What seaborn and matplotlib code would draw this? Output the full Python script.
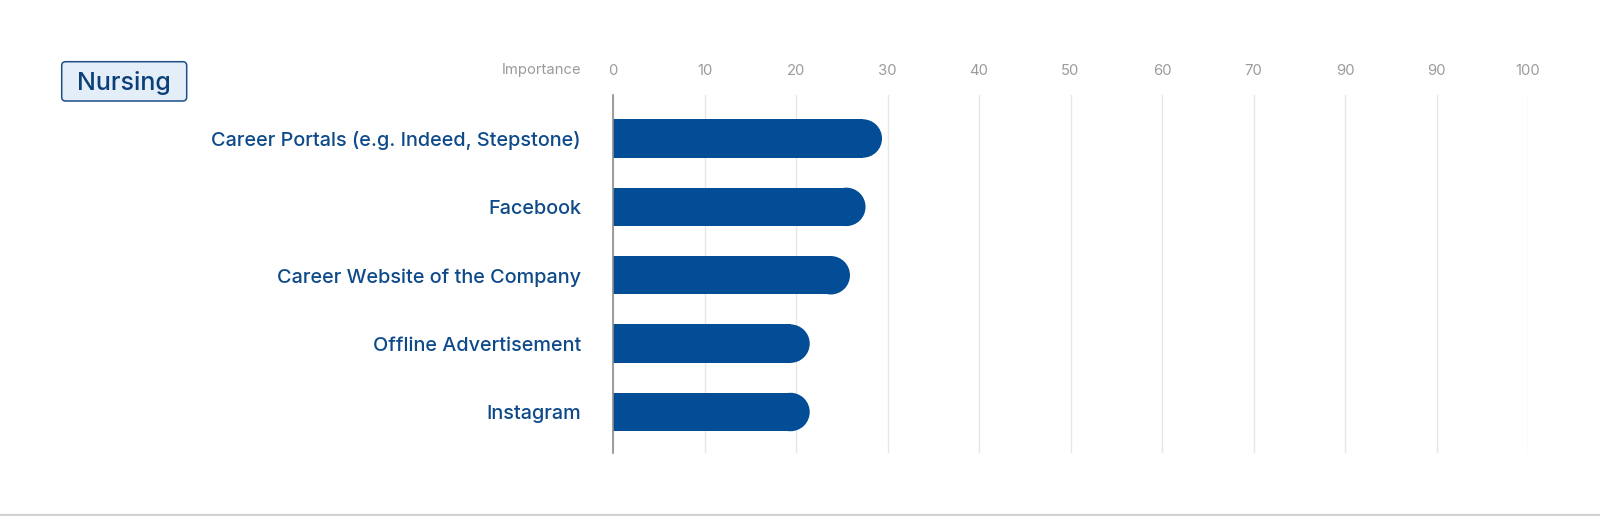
import matplotlib
matplotlib.use("Agg")
import matplotlib.pyplot as plt
import seaborn as sns
import pandas as pd
from matplotlib.patches import Ellipse, FancyBboxPatch
from matplotlib.lines import Line2D
from matplotlib.transforms import IdentityTransform

# ---- data ----
channels = [
    "Career Portals (e.g. Indeed, Stepstone)",
    "Facebook",
    "Career Website of the Company",
    "Offline Advertisement",
    "Instagram",
]
importance = [29.4, 27.6, 25.9, 21.5, 21.5]
tick_values = [0, 10, 20, 30, 40, 50, 60, 70, 80, 90, 100]
tick_labels = ["0", "10", "20", "30", "40", "50", "60", "70", "90", "90", "100"]
group_label = "Nursing"
axis_title = "Importance"

BAR = "#034c96"
LABEL = "#0e4a8a"
GRAY_TXT = "#9b9b9b"
GRID = "#e6e6e6"

sns.set_theme(style="white")
plt.rcParams["font.family"] = ["Inter", "DejaVu Sans"]

W, H = 1600, 516
fig = plt.figure(figsize=(W / 100, H / 100), dpi=100)
fig.patch.set_facecolor("white")

ax_left, ax_right, ax_top, ax_bot = 613, 1528, 95, 452.7
ax = fig.add_axes([ax_left / W, 1 - ax_bot / H, (ax_right - ax_left) / W, (ax_bot - ax_top) / H])

df = pd.DataFrame({"channel": channels, "importance": importance})
bar_h = 0.562
sns.barplot(data=df, x="importance", y="channel", orient="h", color=BAR,
            width=bar_h, saturation=1, ax=ax, zorder=3)

ax.set_xlim(0, 100)
ax.set_ylim(4.595, -0.636)

# rounded right ends
px_per_x = (ax_right - ax_left) / 100.0
r_px = (bar_h * (ax_bot - ax_top) / (4.595 + 0.636)) / 2.0
rx = r_px / px_per_x
for p in list(ax.patches):
    v = p.get_width()
    y0 = p.get_y()
    h = p.get_height()
    p.set_width(v - rx)
    p.set_edgecolor("none")
    e = Ellipse((v - rx, y0 + h / 2), 2 * rx, h, facecolor=BAR, edgecolor="none", zorder=3)
    ax.add_patch(e)

# axes styling
for s in ["top", "right", "bottom"]:
    ax.spines[s].set_visible(False)
ax.spines["left"].set_color("#8c8c8c")
ax.spines["left"].set_linewidth(1.2)
ax.spines["left"].set_zorder(4)

ax.xaxis.tick_top()
ax.set_xticks(tick_values)
ax.set_xticklabels(tick_labels)
ax.tick_params(axis="x", length=0, pad=12.5, labelsize=10.7, labelcolor=GRAY_TXT)
ax.tick_params(axis="y", length=0, pad=23, labelsize=14.3, labelcolor=LABEL)
for t in ax.get_yticklabels():
    t.set_fontweight("medium")
ax.grid(axis="x", color=GRID, linewidth=1, zorder=0)
ax.grid(axis="y", visible=False)
ax.set_axisbelow(True)
ax.set_xlabel("")
ax.set_ylabel("")

# "Importance" label
fig.text(581.7 / W, 1 - 70 / H, axis_title, ha="right", va="center",
         fontsize=10.7, color=GRAY_TXT)

# Nursing box
bx0, by0, bx1, by1 = 61.7, 61.7, 186.7, 101.0
box = FancyBboxPatch((bx0, H - by1), bx1 - bx0, by1 - by0,
                     boxstyle="round,pad=0,rounding_size=4",
                     facecolor="#e4eef8", edgecolor="#1d4f86", linewidth=1.1,
                     transform=IdentityTransform())
fig.add_artist(box)
fig.text((bx0 + bx1) / 2 / W, 1 - 82.5 / H, group_label, ha="center", va="center",
         fontsize=18, fontweight="medium", color="#0b3f78")

# bottom separator line
fig.add_artist(Line2D([0, 1], [1 - 514.5 / H, 1 - 514.5 / H], transform=fig.transFigure,
                      color="#d2d2d2", linewidth=1.6))

fig.savefig("out.png", dpi=100, facecolor="white")
